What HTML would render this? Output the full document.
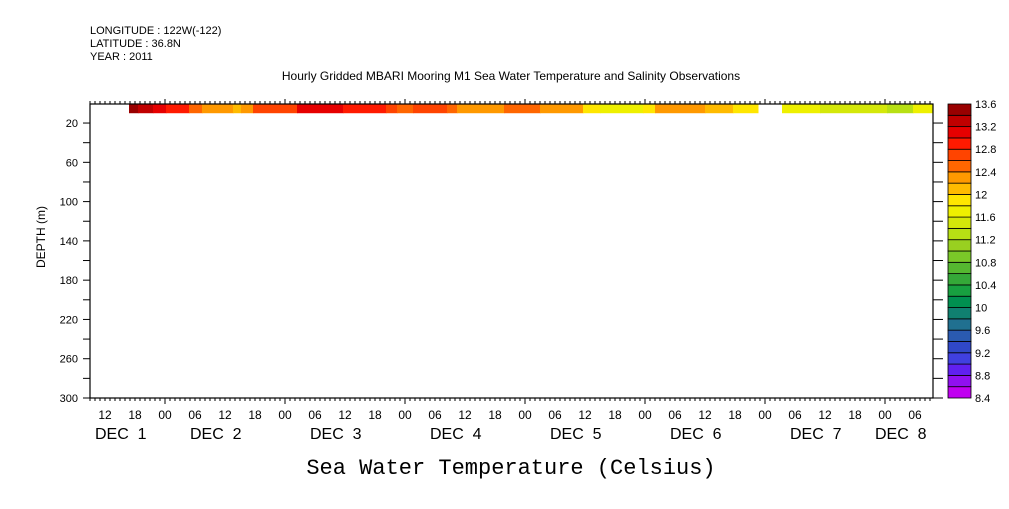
<!DOCTYPE html>
<html><head><meta charset="utf-8"><style>
body{margin:0;background:#fff;}
svg text{font-family:"Liberation Sans",sans-serif;fill:#000;}
</style></head><body>
<svg id="chart" width="1009" height="504" xmlns="http://www.w3.org/2000/svg">
<g font-size="11">
<text x="90" y="34">LONGITUDE : 122W(-122)</text>
<text x="90" y="47">LATITUDE : 36.8N</text>
<text x="90" y="60">YEAR : 2011</text>
<text x="511" y="80" text-anchor="middle" font-size="12">Hourly Gridded MBARI Mooring M1 Sea Water Temperature and Salinity Observations</text>
</g>
<g id="plot"></g>
<text x="14" y="0" transform="translate(45,251) rotate(-90)" text-anchor="middle" font-size="12">DEPTH (m)</text>
<text x="511" y="474" text-anchor="middle" style="font-family:'Liberation Mono',monospace" font-size="22">Sea Water Temperature (Celsius)</text>
</svg>
<script>
// segment start hours (from Dec 1 00:00) and temperatures
const segStart=[16.8,18.6,21.6,24.2,28.8,31.4,37.6,39.2,41.6,50.4,59.6,68.2,70.4,73.6,80.4,82.4,91.8,99,107.6,111,119.6,122,132,137.6,142.6,147.4,155,168.4,173.6];
const segTemp=[13.5,13.3,13.1,12.9,12.5,12.3,12.1,12.3,12.7,13.1,12.9,12.7,12.5,12.7,12.5,12.3,12.5,12.3,11.9,11.7,11.9,12.3,12.1,11.9,null,11.7,11.5,11.3,11.7];
const dataEnd=177.6;
const levelBounds=[8.4,8.6,8.8,9.0,9.2,9.4,9.6,9.8,10.0,10.2,10.4,10.6,10.8,11.0,11.2,11.4,11.6,11.8,12.0,12.2,12.4,12.6,12.8,13.0,13.2,13.4,13.6];
const levelColors=["#c000f0","#9010f0","#6020f0","#4040e0","#3048c8","#2a5ab0","#207090","#108070","#009050","#18a040","#35a838","#55b830","#7ac828","#99d020","#b8e014","#d4e80a","#eef000","#ffe600","#ffbb00","#ff9900","#ff6600","#ff4400","#ff1a00","#e60000","#c00000","#990000"];
const cbLabels=[8.4,8.8,9.2,9.6,10,10.4,10.8,11.2,11.6,12,12.4,12.8,13.2,13.6];
const depthTicks=[20,60,100,140,180,220,260,300];
const dayLabels=["DEC  1","DEC  2","DEC  3","DEC  4","DEC  5","DEC  6","DEC  7","DEC  8"];
const bandDepth=[0,10];

const L=90,R=933,T=104,B=398;
const xs=h=>45+5*h;
const ys=d=>103.4+(d)*(398-103.4)/300;
const ns="http://www.w3.org/2000/svg";
const g=document.getElementById('plot');
function el(t,a,p){const e=document.createElementNS(ns,t);for(const k in a)e.setAttribute(k,a[k]);(p||g).appendChild(e);return e;}
function colorFor(v){for(let i=0;i<levelColors.length;i++){if(v<levelBounds[i+1])return levelColors[i];}return levelColors[levelColors.length-1];}
for(let i=0;i<segStart.length;i++){
 if(segTemp[i]===null)continue;
 const a=segStart[i],b=i+1<segStart.length?segStart[i+1]:dataEnd;
 const r=el('rect',{x:xs(a),y:T,width:xs(b)-xs(a)+0.5,height:ys(bandDepth[1])-T,fill:colorFor(segTemp[i])});
 
 
}
const fr=el('rect',{x:L,y:T,width:R-L,height:B-T,fill:'none',stroke:'#000','stroke-width':1.2});


const h0=Math.ceil((L-45)/5),h1=Math.floor((R-45)/5);
for(let h=h0;h<=h1;h++){
 const x=xs(h);const maj=h%24===0;const mid=h%6===0;
 el('line',{x1:x,x2:x,y1:T,y2:T-(maj?5:3),stroke:'#000'});
 el('line',{x1:x,x2:x,y1:B,y2:B+(maj?6:3),stroke:'#000'});
 if(mid){const t=el('text',{x:x,y:419,'text-anchor':'middle','font-size':12});t.textContent=String(h%24).padStart(2,'0');
 
 }
}
dayLabels.forEach((s,i)=>{
 const x=Math.max(95,Math.min(875,xs(i*24+12)-35));
 const t=el('text',{x:x,y:439,'font-size':16});
 t.style.whiteSpace='pre';
 t.textContent=s;
 
 });
for(let d=20;d<=300;d+=20){
 const y=ys(d);
 el('line',{x1:L-7,x2:L,y1:y,y2:y,stroke:'#000'});
 el('line',{x1:R,x2:R+10,y1:y,y2:y,stroke:'#000'});
}
depthTicks.forEach(d=>{const t=el('text',{x:78,y:ys(d)+4,'text-anchor':'end','font-size':11});t.textContent=d;
 
 });
const cbT=104,cbB=398,n=levelColors.length,bh=(cbB-cbT)/n;
levelColors.forEach((c,i)=>{const r=el('rect',{x:948,y:cbB-(i+1)*bh,width:23,height:bh,fill:c,stroke:'#000','stroke-width':0.8});
 
 });
cbLabels.forEach(v=>{const y=cbB-(v-8.4)/0.2*bh;const t=el('text',{x:975,y:y+4,'font-size':11});t.textContent=v;
 
 });
</script>
</body></html>
